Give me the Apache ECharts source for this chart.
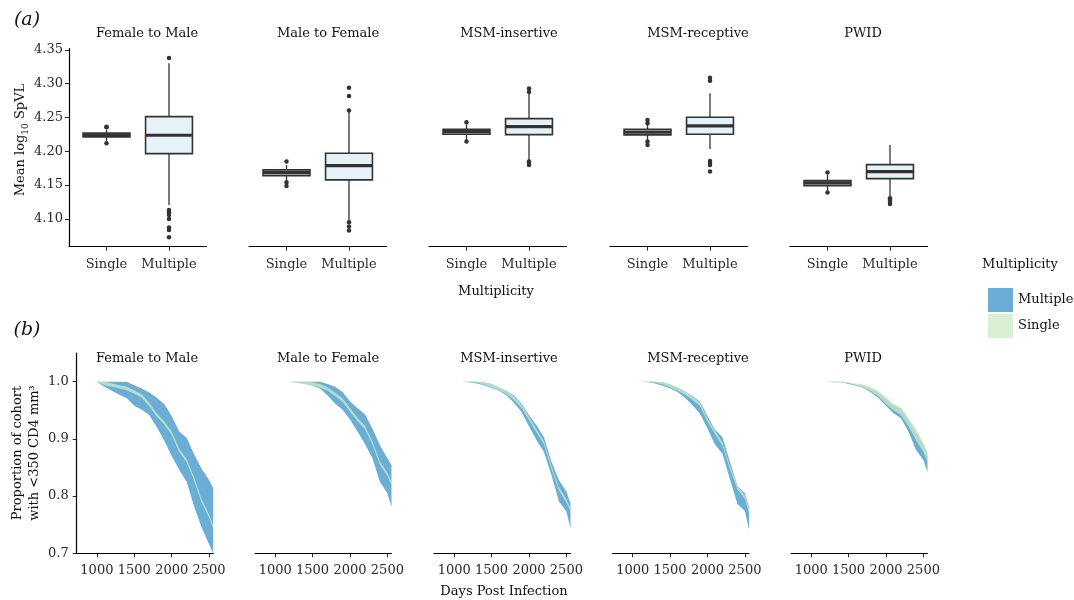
<!DOCTYPE html>
<html><head><meta charset="utf-8">
<script src="https://cdn.jsdelivr.net/npm/echarts@6/dist/echarts.min.js"></script>
<style>html,body{margin:0;padding:0;background:#fff}#c{width:1074px;height:600px}</style>
</head><body><div id="c"></div>
<script>
// ---------------- data ----------------
const panels = ['Female to Male', 'Male to Female', 'MSM-insertive', 'MSM-receptive', 'PWID'];
const boxCategories = ['Single', 'Multiple'];
const topYTicks = [4.10, 4.15, 4.20, 4.25, 4.30, 4.35];
const bottomYTicks = [0.7, 0.8, 0.9, 1.0];
const bottomXTicks = [1000, 1500, 2000, 2500];

// box stats: [lower whisker, Q1, median, Q3, upper whisker]
const singleBoxes = [
  [4.215, 4.2213, 4.2243, 4.2272, 4.232],
  [4.157, 4.164, 4.1685, 4.1725, 4.180],
  [4.217, 4.2253, 4.2291, 4.2327, 4.240],
  [4.216, 4.2243, 4.2283, 4.2327, 4.240],
  [4.142, 4.1493, 4.1533, 4.1567, 4.165]
];
const multipleBoxes = [
  [4.1207, 4.1966, 4.2238, 4.2513, 4.3303],
  [4.0975, 4.1577, 4.1788, 4.1972, 4.2598],
  [4.1873, 4.2247, 4.2365, 4.2484, 4.2859],
  [4.2036, 4.2253, 4.2376, 4.2504, 4.2859],
  [4.133, 4.1596, 4.170, 4.1803, 4.2095]
];
const singleOutliers = [
  [4.2365, 4.2355, 4.212],
  [4.1848, 4.1543, 4.1488],
  [4.243, 4.2144],
  [4.2465, 4.2416, 4.2144, 4.2095],
  [4.1685, 4.1389]
];
const multipleOutliers = [
  [4.338, 4.1133, 4.110, 4.1059, 4.100, 4.0871, 4.0837, 4.0727],
  [4.2605, 4.282, 4.2942, 4.0951, 4.0886, 4.0827],
  [4.2928, 4.2879, 4.1848, 4.1828, 4.1799],
  [4.309, 4.3046, 4.1858, 4.1828, 4.1799, 4.170],
  [4.1306, 4.1281, 4.1251, 4.1222]
];

// survival ribbons (days post infection)
const days = [
  [1000,1100,1200,1300,1400,1500,1600,1700,1800,1900,2000,2100,2200,2300,2400,2500,2555],
  [1200,1300,1400,1500,1600,1700,1800,1900,2000,2100,2200,2300,2400,2500,2555],
  [1000,1100,1200,1300,1400,1500,1600,1700,1800,1900,2000,2100,2200,2300,2400,2500,2555],
  [1000,1100,1200,1300,1400,1500,1600,1700,1800,1900,2000,2100,2200,2300,2400,2500,2555],
  [1100,1200,1300,1400,1500,1600,1700,1800,1900,2000,2100,2200,2300,2400,2500,2555]
];
const multipleUpper = [
  [1.000,1.000,1.000,1.000,1.000,0.994,0.988,0.981,0.972,0.961,0.940,0.913,0.902,0.873,0.848,0.828,0.814],
  [1.000,1.000,1.000,1.000,1.000,0.996,0.991,0.982,0.966,0.954,0.943,0.918,0.889,0.866,0.854],
  [1.000,1.000,1.000,1.000,0.999,0.996,0.990,0.984,0.976,0.962,0.942,0.924,0.903,0.860,0.828,0.808,0.787],
  [1.000,1.000,1.000,1.000,0.999,0.995,0.990,0.983,0.975,0.965,0.940,0.916,0.903,0.860,0.818,0.805,0.781],
  [1.000,1.000,1.000,1.000,0.998,0.995,0.993,0.988,0.981,0.970,0.959,0.953,0.934,0.913,0.890,0.873]
];
const multipleLower = [
  [1.000,0.991,0.984,0.977,0.971,0.958,0.951,0.942,0.921,0.897,0.870,0.846,0.825,0.782,0.745,0.716,0.700],
  [1.000,0.998,0.996,0.993,0.988,0.976,0.962,0.951,0.934,0.913,0.891,0.866,0.825,0.805,0.781],
  [1.000,1.000,0.999,0.997,0.994,0.989,0.984,0.976,0.963,0.947,0.922,0.898,0.877,0.837,0.791,0.773,0.744],
  [1.000,1.000,0.999,0.997,0.993,0.988,0.982,0.972,0.959,0.944,0.918,0.890,0.874,0.830,0.786,0.774,0.741],
  [1.000,1.000,0.999,0.999,0.996,0.993,0.989,0.981,0.971,0.958,0.945,0.936,0.913,0.881,0.863,0.842]
];
const singleUpper = [
  [1.000,1.000,0.997,0.994,0.991,0.985,0.978,0.963,0.945,0.931,0.913,0.883,0.865,0.833,0.795,0.768,0.749],
  [1.000,1.000,1.000,0.999,0.996,0.990,0.981,0.971,0.954,0.937,0.923,0.896,0.861,0.841,0.825],
  [1.000,1.000,1.000,1.000,0.999,0.996,0.991,0.984,0.974,0.960,0.939,0.917,0.896,0.853,0.816,0.795,0.779],
  [1.000,1.000,1.000,1.000,0.999,0.996,0.990,0.983,0.974,0.963,0.936,0.914,0.894,0.853,0.818,0.801,0.779],
  [1.000,1.000,1.000,1.000,0.999,0.997,0.996,0.991,0.984,0.974,0.962,0.956,0.938,0.918,0.894,0.878]
];
const singleLower = [
  [1.000,0.994,0.991,0.988,0.985,0.979,0.972,0.957,0.939,0.925,0.907,0.877,0.859,0.827,0.789,0.762,0.743],
  [1.000,0.997,0.996,0.993,0.990,0.984,0.975,0.965,0.948,0.931,0.917,0.890,0.855,0.835,0.819],
  [1.000,1.000,0.999,0.998,0.995,0.990,0.985,0.978,0.968,0.954,0.933,0.911,0.890,0.847,0.810,0.789,0.773],
  [1.000,1.000,0.999,0.998,0.995,0.990,0.984,0.977,0.968,0.957,0.930,0.908,0.888,0.847,0.812,0.795,0.771],
  [1.000,1.000,0.999,0.999,0.997,0.994,0.990,0.983,0.974,0.961,0.950,0.942,0.922,0.898,0.877,0.860]
];

// ---------------- layout / style ----------------
const FONT = 'DejaVu Serif';
const TXT = '#111111';
const TICKC = '#2a2a2a';
const BLUE = '#6aaed6';
const GREEN = '#ccebc5';
const BOXFILL = '#e5f3f9';
const topLeft = [69, 249, 429, 610, 790];
const botLeft = [76.7, 255, 434, 612.5, 791];
const titleX = [147, 328, 509, 698, 863];

function boxRender(params, api) {
  const x = api.value(0);
  const lo = api.value(1), q1 = api.value(2), med = api.value(3), q3 = api.value(4), hi = api.value(5);
  const hw = 0.375;
  const pTL = api.coord([x - hw, q3]);
  const pBR = api.coord([x + hw, q1]);
  const pLo = api.coord([x, lo]);
  const pHi = api.coord([x, hi]);
  const pQ1 = api.coord([x, q1]);
  const pQ3 = api.coord([x, q3]);
  const pM = api.coord([x, med]);
  return {
    type: 'group',
    children: [
      { type: 'line', shape: { x1: pLo[0], y1: pLo[1], x2: pQ1[0], y2: pQ1[1] }, style: { stroke: '#333', lineWidth: 1.3 } },
      { type: 'line', shape: { x1: pQ3[0], y1: pQ3[1], x2: pHi[0], y2: pHi[1] }, style: { stroke: '#333', lineWidth: 1.3 } },
      { type: 'rect', shape: { x: pTL[0], y: pTL[1], width: pBR[0] - pTL[0], height: pBR[1] - pTL[1] },
        style: { fill: BOXFILL, stroke: '#333', lineWidth: 1.6 } },
      { type: 'line', shape: { x1: pTL[0], y1: pM[1], x2: pBR[0], y2: pM[1] }, style: { stroke: '#333', lineWidth: 3.2 } }
    ]
  };
}

function makeBand(d, lo, hi, color, opacity) {
  return function (params, api) {
    if (params.dataIndex !== 0) return null;
    const pts = [];
    for (let j = 0; j < d.length; j++) pts.push(api.coord([d[j], hi[j]]));
    for (let j = d.length - 1; j >= 0; j--) pts.push(api.coord([d[j], lo[j]]));
    return { type: 'polygon', shape: { points: pts }, style: { fill: color, opacity: opacity } };
  };
}

const grid = [], xAxis = [], yAxis = [], series = [];
const labelStyle = { fontFamily: FONT, fontSize: 13, color: TICKC };

for (let i = 0; i < 5; i++) {
  grid.push({ left: topLeft[i], top: 48.6, width: 137.5, height: 198 });
  xAxis.push({
    gridIndex: i, type: 'value', min: 0.4, max: 2.6,
    axisLine: { show: true, onZero: false, lineStyle: { color: '#000', width: 1.2 } },
    axisTick: { show: true, customValues: [1, 2], length: 4, lineStyle: { color: TICKC, width: 1 } },
    axisLabel: Object.assign({ customValues: [1, 2], margin: 12, formatter: v => boxCategories[Math.round(v) - 1] }, labelStyle),
    splitLine: { show: false }
  });
  yAxis.push({
    gridIndex: i, type: 'value', min: 4.059, max: 4.352, show: i === 0,
    axisLine: { show: true, onZero: false, lineStyle: { color: '#000', width: 1.2 } },
    axisTick: { show: true, customValues: topYTicks, length: 4, lineStyle: { color: TICKC, width: 1 } },
    axisLabel: Object.assign({ customValues: topYTicks, margin: 6, formatter: v => v.toFixed(2) }, labelStyle),
    splitLine: { show: false }
  });
}
for (let i = 0; i < 5; i++) {
  grid.push({ left: botLeft[i], top: 353.1, width: 136.5, height: 200.2 });
  xAxis.push({
    gridIndex: 5 + i, type: 'value', min: 730, max: 2555,
    axisLine: { show: true, onZero: false, lineStyle: { color: '#000', width: 1.2 } },
    axisTick: { show: true, customValues: bottomXTicks, length: 4, lineStyle: { color: TICKC, width: 1 } },
    axisLabel: Object.assign({ customValues: bottomXTicks, margin: 11, formatter: v => String(v) }, labelStyle),
    splitLine: { show: false }
  });
  yAxis.push({
    gridIndex: 5 + i, type: 'value', min: 0.7, max: 1.05, show: i === 0,
    axisLine: { show: true, onZero: false, lineStyle: { color: '#000', width: 1.2 } },
    axisTick: { show: true, customValues: bottomYTicks, length: 4, lineStyle: { color: TICKC, width: 1 } },
    axisLabel: Object.assign({ customValues: bottomYTicks, margin: 8, formatter: v => v.toFixed(1) }, labelStyle),
    splitLine: { show: false }
  });
}

for (let i = 0; i < 5; i++) {
  series.push({
    type: 'custom', name: 'box' + i, xAxisIndex: i, yAxisIndex: i,
    renderItem: boxRender, encode: { x: 0, y: [1, 2, 3, 4, 5] },
    data: [[1].concat(singleBoxes[i]), [2].concat(multipleBoxes[i])], z: 2, silent: true
  });
  series.push({
    type: 'scatter', name: 'out' + i, xAxisIndex: i, yAxisIndex: i,
    symbolSize: 4.5, itemStyle: { color: '#333', opacity: 1 }, z: 3, silent: true,
    data: singleOutliers[i].map(v => [1, v]).concat(multipleOutliers[i].map(v => [2, v]))
  });
  series.push({
    type: 'custom', name: 'Multiple', xAxisIndex: 5 + i, yAxisIndex: 5 + i, clip: true,
    itemStyle: { color: BLUE },
    renderItem: makeBand(days[i], multipleLower[i], multipleUpper[i], BLUE, 1),
    encode: { x: 0, y: [1, 2] }, z: 2, silent: true,
    data: days[i].map((d, j) => [d, multipleLower[i][j], multipleUpper[i][j]])
  });
  series.push({
    type: 'custom', name: 'Single', xAxisIndex: 5 + i, yAxisIndex: 5 + i, clip: true,
    itemStyle: { color: GREEN },
    renderItem: makeBand(days[i], singleLower[i], singleUpper[i], GREEN, 0.75),
    encode: { x: 0, y: [1, 2] }, z: 3, silent: true,
    data: days[i].map((d, j) => [d, singleLower[i][j], singleUpper[i][j]])
  });
}

const graphic = [];
function txt(x, y, text, size, extra) {
  return Object.assign({ type: 'text', x: x, y: y, silent: true,
    style: { text: text, fontFamily: FONT, fontSize: size, fill: TXT, align: 'center', verticalAlign: 'middle' } }, extra || {});
}
for (let i = 0; i < 5; i++) {
  graphic.push(txt(titleX[i], 34, panels[i], 13));
  graphic.push(txt(titleX[i], 359, panels[i], 13));
}
graphic.push(txt(27, 20, '(a)', 19, {}));
graphic[graphic.length - 1].style.fontStyle = 'italic';
graphic.push(txt(27, 330, '(b)', 19, {}));
graphic[graphic.length - 1].style.fontStyle = 'italic';
graphic.push(txt(496, 292, 'Multiplicity', 13));
graphic.push(txt(504, 592, 'Days Post Infection', 13));
graphic.push(txt(1020, 265, 'Multiplicity', 13));
graphic.push({
  type: 'text', x: 21, y: 140, rotation: Math.PI / 2, silent: true,
  style: {
    text: '{n|Mean log}{s|10}{n| SpVL}', fill: TXT, align: 'center', verticalAlign: 'middle',
    rich: {
      n: { fontFamily: FONT, fontSize: 13, lineHeight: 18, fill: TXT },
      s: { fontFamily: FONT, fontSize: 9, lineHeight: 10, verticalAlign: 'bottom', fill: TXT }
    }
  }
});
graphic.push({
  type: 'text', x: 26, y: 453, rotation: Math.PI / 2, silent: true,
  style: { text: 'Proportion of cohort\nwith <350 CD4 mm\u00B3', fontFamily: FONT, fontSize: 13, lineHeight: 17,
    fill: TXT, align: 'center', verticalAlign: 'middle' }
});

const chart = echarts.init(document.getElementById('c'));
chart.setOption({
  animation: false,
  backgroundColor: '#fff',
  grid: grid, xAxis: xAxis, yAxis: yAxis, series: series, graphic: graphic,
  legend: {
    left: 983, top: 283, orient: 'vertical', itemWidth: 25, itemHeight: 24, itemGap: 2,
    icon: 'rect', selectedMode: false,
    data: [{ name: 'Multiple', itemStyle: { color: BLUE } }, { name: 'Single', itemStyle: { color: '#d9f0d4' } }],
    textStyle: { fontFamily: FONT, fontSize: 13, color: TXT }
  }
});
</script></body></html>
